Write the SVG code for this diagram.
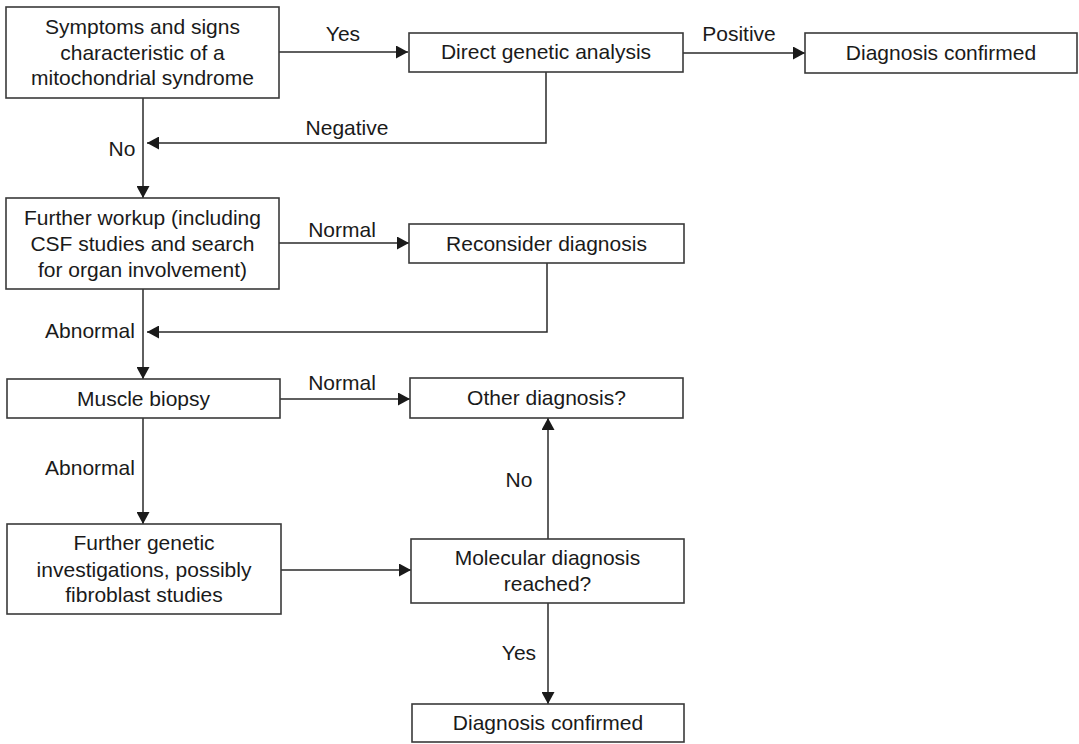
<svg xmlns="http://www.w3.org/2000/svg" width="1079" height="744" viewBox="0 0 1079 744">
  <defs>
    <marker id="arrow" markerUnits="userSpaceOnUse" markerWidth="13" markerHeight="13" refX="12" refY="6.5" orient="auto">
      <path d="M0,0 L12,6.5 L0,13 Z" fill="#1a1a1a"/>
    </marker>
    <style>
      .box { fill: #ffffff; stroke: #3a3a3a; stroke-width: 1.6; }
      .t { font-family: "Liberation Sans", Arial, sans-serif; font-size: 21px; fill: #1a1a1a; text-anchor: middle; }
      .conn path { fill: none; stroke: #2a2a2a; stroke-width: 1.5; }
      .arr { marker-end: url(#arrow); }
    </style>
  </defs>
  <rect width="1079" height="744" fill="#ffffff"/>

  <g id="connectors" class="conn">
    <path class="arr" d="M279,52 H408"/>
    <path class="arr" d="M683,53 H805"/>
    <path class="arr" d="M546,72 V143 H147"/>
    <path class="arr" d="M143,98 V198"/>
    <path class="arr" d="M279,243 H409"/>
    <path class="arr" d="M547,263 V332 H147"/>
    <path class="arr" d="M143,289 V379"/>
    <path class="arr" d="M280,399 H410"/>
    <path class="arr" d="M143,418 V524"/>
    <path class="arr" d="M281,570 H411"/>
    <path class="arr" d="M548,539 V418"/>
    <path class="arr" d="M548,603 V704"/>
  </g>

  <g id="labels">
    <text class="t" x="343" y="41">Yes</text>
    <text class="t" x="739" y="41">Positive</text>
    <text class="t" x="347" y="135">Negative</text>
    <text class="t" x="122" y="156">No</text>
    <text class="t" x="342" y="237">Normal</text>
    <text class="t" x="90" y="338">Abnormal</text>
    <text class="t" x="342" y="390">Normal</text>
    <text class="t" x="90" y="475">Abnormal</text>
    <text class="t" x="519" y="487">No</text>
    <text class="t" x="519" y="660">Yes</text>
  </g>

  <g id="symptoms">
    <rect class="box" x="6" y="7" width="273" height="91"/>
    <text class="t" x="142.5" y="34">Symptoms and signs</text>
    <text class="t" x="142.5" y="60">characteristic of a</text>
    <text class="t" x="142.5" y="85">mitochondrial syndrome</text>
  </g>

  <g id="direct-genetic">
    <rect class="box" x="409" y="33" width="274" height="39"/>
    <text class="t" x="546" y="59">Direct genetic analysis</text>
  </g>

  <g id="diagnosis-confirmed-top">
    <rect class="box" x="805" y="33" width="272" height="40"/>
    <text class="t" x="941" y="60">Diagnosis confirmed</text>
  </g>

  <g id="further-workup">
    <rect class="box" x="6" y="198" width="273" height="91"/>
    <text class="t" x="142.5" y="225">Further workup (including</text>
    <text class="t" x="142.5" y="251">CSF studies and search</text>
    <text class="t" x="142.5" y="277">for organ involvement)</text>
  </g>

  <g id="reconsider">
    <rect class="box" x="409" y="224" width="275" height="39"/>
    <text class="t" x="546.5" y="251">Reconsider diagnosis</text>
  </g>

  <g id="muscle-biopsy">
    <rect class="box" x="7" y="379" width="273" height="39"/>
    <text class="t" x="143.5" y="406">Muscle biopsy</text>
  </g>

  <g id="other-diagnosis">
    <rect class="box" x="410" y="378" width="273" height="40"/>
    <text class="t" x="546.5" y="405">Other diagnosis?</text>
  </g>

  <g id="further-genetic">
    <rect class="box" x="7" y="524" width="274" height="90"/>
    <text class="t" x="144" y="550">Further genetic</text>
    <text class="t" x="144" y="577">investigations, possibly</text>
    <text class="t" x="144" y="602">fibroblast studies</text>
  </g>

  <g id="molecular">
    <rect class="box" x="411" y="539" width="273" height="64"/>
    <text class="t" x="547.5" y="565">Molecular diagnosis</text>
    <text class="t" x="547.5" y="591">reached?</text>
  </g>

  <g id="diagnosis-confirmed-bottom">
    <rect class="box" x="412" y="704" width="272" height="38"/>
    <text class="t" x="548" y="730">Diagnosis confirmed</text>
  </g>
</svg>
